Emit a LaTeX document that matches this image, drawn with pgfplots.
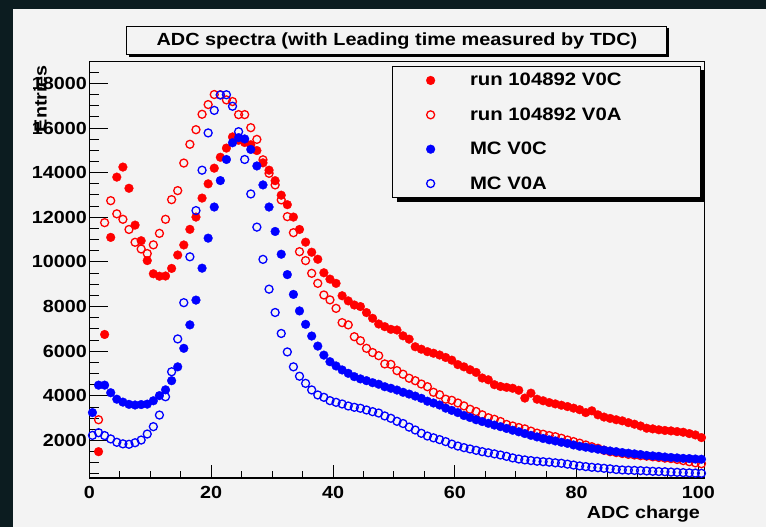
\documentclass[border=0pt]{standalone}
\usepackage{pgfplots}
\pgfplotsset{compat=1.18}
\usepackage{fontspec}
\setmainfont{Liberation Sans}[FakeStretch=1.13]
\usetikzlibrary{shadows}
\definecolor{bgdark}{RGB}{12,28,32}
\definecolor{canvas}{RGB}{243,243,243}
\definecolor{rootred}{RGB}{255,0,0}
\definecolor{rootblue}{RGB}{0,0,255}
\pgfplotstableread{
x y
1.5 1500
2.5 6750
3.5 11100
4.5 13800
5.5 14250
6.5 13300
7.5 11650
8.5 10950
9.5 10060
10.5 9470
11.5 9360
12.5 9370
13.5 9710
14.5 10310
15.5 10760
16.5 11460
17.5 12010
18.5 12860
19.5 13500
20.5 14200
21.5 14690
22.5 15100
23.5 15600
24.5 15450
25.5 15350
26.5 15250
27.5 14990
28.5 14440
29.5 14110
30.5 13640
31.5 12990
32.5 12565
33.5 12010
34.5 11455
35.5 10885
36.5 10435
37.5 10120
38.5 9515
39.5 9230
40.5 9040
41.5 8485
42.5 8255
43.5 8070
44.5 8000
45.5 7730
46.5 7475
47.5 7220
48.5 7100
49.5 6980
50.5 6950
51.5 6690
52.5 6540
53.5 6200
54.5 6090
55.5 5980
56.5 5910
57.5 5830
58.5 5720
59.5 5600
60.5 5400
61.5 5300
62.5 5170
63.5 5050
64.5 4800
65.5 4720
66.5 4500
67.5 4420
68.5 4380
69.5 4340
70.5 4250
71.5 3900
72.5 4120
73.5 3850
74.5 3780
75.5 3700
76.5 3640
77.5 3580
78.5 3520
79.5 3450
80.5 3380
81.5 3250
82.5 3330
83.5 3150
84.5 3050
85.5 2990
86.5 2930
87.5 2880
88.5 2800
89.5 2730
90.5 2650
91.5 2550
92.5 2520
93.5 2480
94.5 2450
95.5 2430
96.5 2400
97.5 2370
98.5 2310
99.5 2250
100.5 2130
}\runVOC
\pgfplotstableread{
x y
1.5 2930
2.5 11760
3.5 12745
4.5 12155
5.5 11910
6.5 11455
7.5 10880
8.5 10580
9.5 10375
10.5 10765
11.5 11280
12.5 11910
13.5 12790
14.5 13195
15.5 14430
16.5 15270
17.5 15925
18.5 16615
19.5 17050
20.5 17500
21.5 17490
22.5 17260
23.5 17185
24.5 16600
25.5 16600
26.5 16015
27.5 15490
28.5 14575
29.5 13970
30.5 13450
31.5 12780
32.5 12030
33.5 11310
34.5 10460
35.5 10060
36.5 9490
37.5 9040
38.5 8520
39.5 8300
40.5 7920
41.5 7280
42.5 7180
43.5 6650
44.5 6470
45.5 6130
46.5 5940
47.5 5800
48.5 5430
49.5 5410
50.5 5130
51.5 4970
52.5 4790
53.5 4680
54.5 4530
55.5 4410
56.5 4160
57.5 4050
58.5 3850
59.5 3800
60.5 3680
61.5 3550
62.5 3400
63.5 3300
64.5 3150
65.5 3020
66.5 2950
67.5 2850
68.5 2720
69.5 2650
70.5 2580
71.5 2520
72.5 2420
73.5 2330
74.5 2280
75.5 2220
76.5 2170
77.5 2100
78.5 2020
79.5 1950
80.5 1880
81.5 1800
82.5 1720
83.5 1650
84.5 1560
85.5 1500
86.5 1460
87.5 1420
88.5 1380
89.5 1350
90.5 1320
91.5 1300
92.5 1270
93.5 1240
94.5 1210
95.5 1190
96.5 1150
97.5 1100
98.5 1050
99.5 1000
100.5 960
}\runVOA
\pgfplotstableread{
x y
0.5 3250
1.5 4480
2.5 4480
3.5 4140
4.5 3850
5.5 3720
6.5 3620
7.5 3590
8.5 3610
9.5 3630
10.5 3780
11.5 4010
12.5 4270
13.5 4680
14.5 5300
15.5 6130
16.5 7180
17.5 8290
18.5 9720
19.5 11065
20.5 12460
21.5 13645
22.5 14590
23.5 15340
24.5 15570
25.5 15510
26.5 15040
27.5 14300
28.5 13450
29.5 12460
30.5 11365
31.5 10345
32.5 9432
33.5 8545
34.5 7805
35.5 7204
36.5 6680
37.5 6230
38.5 5825
39.5 5530
40.5 5340
41.5 5160
42.5 5010
43.5 4860
44.5 4760
45.5 4680
46.5 4590
47.5 4520
48.5 4410
49.5 4340
50.5 4260
51.5 4160
52.5 4080
53.5 3990
54.5 3890
55.5 3760
56.5 3680
57.5 3590
58.5 3450
59.5 3350
60.5 3250
61.5 3120
62.5 3030
63.5 2930
64.5 2850
65.5 2770
66.5 2690
67.5 2620
68.5 2540
69.5 2460
70.5 2390
71.5 2310
72.5 2230
73.5 2160
74.5 2090
75.5 2030
76.5 1980
77.5 1920
78.5 1870
79.5 1800
80.5 1740
81.5 1700
82.5 1650
83.5 1610
84.5 1570
85.5 1530
86.5 1500
87.5 1460
88.5 1430
89.5 1400
90.5 1370
91.5 1330
92.5 1310
93.5 1290
94.5 1260
95.5 1240
96.5 1220
97.5 1200
98.5 1190
99.5 1170
100.5 1160
}\mcVOC
\pgfplotstableread{
x y
0.5 2230
1.5 2350
2.5 2220
3.5 2070
4.5 1920
5.5 1850
6.5 1830
7.5 1900
8.5 2020
9.5 2290
10.5 2620
11.5 3140
12.5 3960
13.5 5080
14.5 6550
15.5 8175
16.5 10230
17.5 12300
18.5 14110
19.5 15780
20.5 16790
21.5 17480
22.5 17490
23.5 16975
24.5 15835
25.5 14590
26.5 13045
27.5 11560
28.5 10115
29.5 8780
30.5 7735
31.5 6795
32.5 5968
33.5 5300
34.5 4880
35.5 4560
36.5 4265
37.5 4040
38.5 3935
39.5 3785
40.5 3710
41.5 3636
42.5 3546
43.5 3488
44.5 3444
45.5 3367
46.5 3292
47.5 3230
48.5 3100
49.5 2995
50.5 2860
51.5 2760
52.5 2600
53.5 2470
54.5 2323
55.5 2200
56.5 2120
57.5 2040
58.5 1950
59.5 1840
60.5 1750
61.5 1680
62.5 1620
63.5 1560
64.5 1500
65.5 1450
66.5 1400
67.5 1350
68.5 1290
69.5 1220
70.5 1170
71.5 1130
72.5 1100
73.5 1070
74.5 1050
75.5 1030
76.5 1000
77.5 980
78.5 940
79.5 900
80.5 860
81.5 830
82.5 800
83.5 780
84.5 755
85.5 730
86.5 700
87.5 680
88.5 670
89.5 660
90.5 650
91.5 635
92.5 620
93.5 610
94.5 600
95.5 585
96.5 575
97.5 560
98.5 550
99.5 540
100.5 530
}\mcVOA
\begin{document}
\begin{tikzpicture}
\fill[bgdark] (0pt,0pt) rectangle (766pt,527pt);
\fill[canvas] (13.3pt,0pt) rectangle (766pt,517.7pt);
\begin{axis}[
  at={(89.4pt,49pt)}, anchor=south west,
  scale only axis, width=615.1pt, height=416.5pt,
  xmin=0, xmax=101, ymin=320, ymax=18980,
  axis background/.style={fill=canvas},
  axis line style={line width=1.1pt, black},
  tick pos=left, tick align=inside,
  xtick={0,20,...,100},
  minor xtick={5,10,15,25,30,35,45,50,55,65,70,75,85,90,95},
  ytick={2000,4000,...,18000},
  minor ytick={500,1000,1500,2500,3000,3500,4500,5000,5500,6500,7000,7500,8500,9000,9500,10500,11000,11500,12500,13000,13500,14500,15000,15500,16500,17000,17500,18500},
  every tick/.style={black, line width=1pt},
  xtick style={/pgfplots/major tick length=13pt, /pgfplots/minor tick length=6.5pt},
  ytick style={/pgfplots/major tick length=19pt, /pgfplots/minor tick length=9.5pt},
  scaled ticks=false,
  /pgf/number format/1000 sep={},
  /pgf/number format/assume math mode=true,
  ticklabel style={font=\bfseries\fontsize{17.5}{20}\selectfont},
  xticklabel style={anchor=north, inner sep=0pt, yshift=-7.7pt},
  yticklabel style={anchor=east, inner sep=0pt, xshift=-2.4pt},
  title={ADC spectra (with Leading time measured by TDC)},
  every axis title shift=0pt,
  title style={at={(axis description cs:0.5,1)}, anchor=center, yshift=21pt,
    draw=black, line width=1pt, fill=canvas, minimum width=540pt, minimum height=28.6pt,
    inner sep=0pt, font=\bfseries\fontsize{17.6}{20}\selectfont,
    drop shadow={shadow xshift=2pt, shadow yshift=-2pt, opacity=1, fill=black}},
  xlabel={ADC charge},
  ylabel={Entries},
  label style={font=\bfseries\fontsize{17.5}{20}\selectfont},
  xlabel style={at={(axis description cs:1,0)}, anchor=base east, yshift=-40.7pt, xshift=-1pt},
  ylabel style={at={(axis description cs:-0.0694,1)}, anchor=base east},
  legend cell align=left,
  legend image code/.code={\draw[#1] plot coordinates {(0pt,0pt)};},
  legend style={at={(axis description cs:0.492,0.9894)}, anchor=north west,
    draw=black, line width=1pt, fill=canvas,
    inner xsep=33.7pt, inner ysep=5pt, column sep=33pt, row sep=16.3pt,
    font=\bfseries\fontsize{18}{21}\selectfont,
    drop shadow={shadow xshift=4pt, shadow yshift=-4pt, opacity=1, fill=black}},
]
\addplot[only marks, mark=*, mark size=4.4pt, color=rootred, mark options={line width=0.3pt}] table {\runVOC};
\addlegendentry{\makebox[195pt][l]{run 104892 V0C}}
\addplot[only marks, mark=o, mark size=4.0pt, color=rootred, mark options={line width=1.3pt}] table {\runVOA};
\addlegendentry{run 104892 V0A}
\addplot[only marks, mark=*, mark size=4.4pt, color=rootblue, mark options={line width=0.3pt}] table {\mcVOC};
\addlegendentry{MC V0C}
\addplot[only marks, mark=o, mark size=4.0pt, color=rootblue, mark options={line width=1.3pt}] table {\mcVOA};
\addlegendentry{MC V0A}
\end{axis}
\pgfresetboundingbox
\useasboundingbox (0pt,0pt) rectangle (766pt,527pt);
\end{tikzpicture}
\end{document}
